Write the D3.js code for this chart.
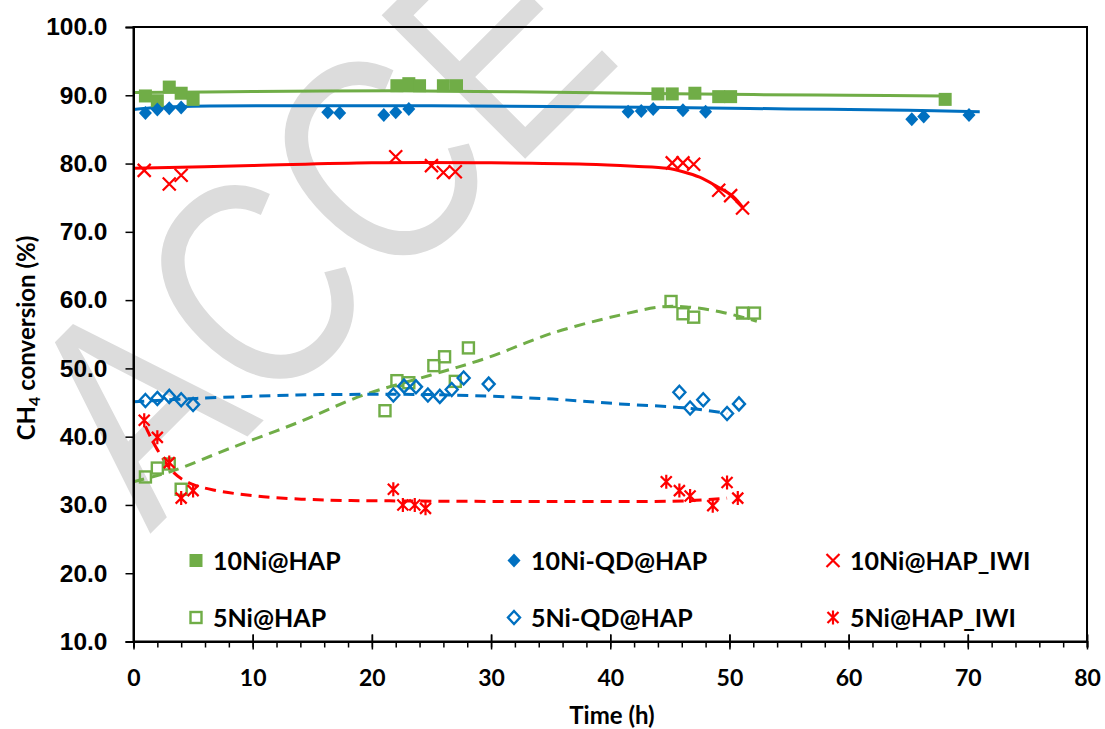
<!DOCTYPE html>
<html>
<head>
<meta charset="utf-8">
<script src="https://cdn.jsdelivr.net/npm/d3@7"></script>
<style>
  body { margin: 0; background: #fff; }
  svg { display: block; }
</style>
</head>
<body>
<script>
// Measured points: [time (h), CH4 conversion (%)]
const ni10HAP = [[1,89.9],[2,89.2],[3,91.2],[4,90.3],[5,89.4],[22.1,91.4],[23.1,91.7],[24,91.4],[26,91.4],[27.1,91.4],
  [44,90.2],[45.2,90.2],[47.1,90.3],[49.1,89.8],[50.1,89.8],[68.1,89.4]];
const ni10QD = [[1,87.4],[2,87.9],[3,88.1],[4,88.2],[16.3,87.5],[17.3,87.4],[21,87.1],[22,87.5],[23.1,88.0],
  [41.5,87.6],[42.6,87.7],[43.6,88.0],[46.1,87.8],[48,87.6],[65.3,86.5],[66.3,86.9],[70.1,87.1]];
const ni10IWI = [[0.9,79.0],[3,77.0],[4,78.3],[22,81.0],[25,79.7],[26,78.7],[27,78.8],
  [45.2,80.1],[46.1,80.1],[47,79.9],[49.1,76.1],[50.1,75.3],[51.1,73.5]];
const ni5HAP = [[1,34.1],[2,35.4],[3,36.0],[4,32.3],[21.1,43.8],[22.1,48.2],[23.1,47.9],[25.2,50.4],[26.1,51.7],
  [27,48.1],[28.1,53.0],[45.1,59.8],[46.1,58.0],[47,57.5],[51.1,58.1],[52.1,58.1]];
const ni5QD = [[1,45.3],[2,45.6],[3,45.9],[4,45.4],[5,44.7],[21.8,46.1],[22.7,47.4],[23.7,47.3],[24.7,46.1],
  [25.7,45.9],[26.7,46.9],[27.7,48.6],[29.8,47.7],[45.8,46.5],[46.7,44.2],[47.8,45.4],[49.8,43.4],[50.8,44.8]];
const ni5IWI = [[0.9,42.4],[2,39.9],[3,36.2],[4,31.0],[5,32.1],[21.8,32.3],[22.6,30.0],[23.6,30.0],[24.5,29.5],
  [44.7,33.4],[45.8,32.1],[46.7,31.3],[48.6,29.9],[49.8,33.3],[50.7,31.0]];

// Trend lines
const fit10NiHAP = [[0,90.4],[10,90.55],[22,90.65],[32,90.5],[42,90.3],[52,90.1],[60,90.0],[68,89.9]];
const fit10NiQD = [[0,87.9],[2,88.2],[5,88.4],[15,88.45],[25,88.45],[35,88.35],[45,88.2],[55,88.0],[65,87.8],[71,87.6]];
const fit10NiIWI = [[0,79.3],[10,79.7],[20,80.1],[30,80.1],[38,79.9],[42,79.6],[44.8,79.3],[46.1,78.8],[47.5,78.0],
  [48.9,76.7],[50.3,75.2],[51.1,73.6]];
const fit5NiHAP = [[0,33.4],[3.3,35.0],[8.1,38.3],[13.7,42.0],[19.3,46.1],[24.9,49.0],[29.6,51.5],[35.2,55.2],
  [40.8,57.8],[44.2,59.0],[46.4,59.0],[49.2,58.3],[52.3,56.9]];
const fit5NiQD = [[0,45.1],[5.3,45.6],[13.7,46.1],[21.5,46.2],[26.8,46.1],[35.2,45.5],[40.8,44.8],[46.4,44.2],[49.8,43.4]];
const fit5NiIWI = [[1,41.5],[2,38.1],[3.4,34.7],[4.7,33.2],[6.7,32.2],[10.9,31.2],[16.5,30.7],[21.5,30.6],
  [35.2,30.5],[46.4,30.6],[49.8,31.0]];

const labels = ["10Ni@HAP", "10Ni-QD@HAP", "10Ni@HAP_IWI", "5Ni@HAP", "5Ni-QD@HAP", "5Ni@HAP_IWI"];
const xTicks = [0, 10, 20, 30, 40, 50, 60, 70, 80];
const yTicks = [10, 20, 30, 40, 50, 60, 70, 80, 90, 100];

const green = "#70ad47", blue = "#0070c0", red = "#ff0000";

const series = [
  { name: labels[0], data: ni10HAP, fit: fit10NiHAP, color: green, marker: "sq", dash: null },
  { name: labels[1], data: ni10QD, fit: fit10NiQD, color: blue, marker: "dia", dash: null },
  { name: labels[2], data: ni10IWI, fit: fit10NiIWI, color: red, marker: "x", dash: null },
  { name: labels[3], data: ni5HAP, fit: fit5NiHAP, color: green, marker: "osq", dash: "11,7" },
  { name: labels[4], data: ni5QD, fit: fit5NiQD, color: blue, marker: "odia", dash: "11,7" },
  { name: labels[5], data: ni5IWI, fit: fit5NiIWI, color: red, marker: "star", dash: "11,7" }
];

const W = 1105, H = 729;
const margin = { top: 27, right: 18, bottom: 87.5, left: 133.5 };

const svg = d3.select("body").append("svg")
  .attr("width", W).attr("height", H);

svg.append("rect").attr("width", W).attr("height", H).attr("fill", "#fff");

// watermark (narrow letters, diagonal)
svg.append("text")
  .attr("transform", "translate(150,534) rotate(-45) scale(0.82,1)")
  .attr("font-family", "Liberation Sans, Arial, sans-serif")
  .attr("font-size", 295)
  .attr("fill", "#dcdcdc")
  .text("ACCE");

const x = d3.scaleLinear().domain([0, 80]).range([margin.left, W - margin.right]);
const y = d3.scaleLinear().domain([10, 100]).range([H - margin.bottom, margin.top]);

// trend lines
const line = d3.line()
  .x(d => x(d[0]))
  .y(d => y(d[1]))
  .curve(d3.curveCatmullRom.alpha(0.5));

series.forEach(s => {
  svg.append("path")
    .datum(s.fit)
    .attr("fill", "none")
    .attr("stroke", s.color)
    .attr("stroke-width", 3)
    .attr("stroke-dasharray", s.dash)
    .attr("d", line);
});

// markers
function drawMarker(g, type, color) {
  if (type === "sq") {
    g.append("rect").attr("x", -6.5).attr("y", -6.5).attr("width", 13).attr("height", 13).attr("fill", color);
  } else if (type === "dia") {
    g.append("path").attr("d", "M0,-7L6.5,0L0,7L-6.5,0Z").attr("fill", color);
  } else if (type === "x") {
    g.append("path").attr("d", "M-6.5,-6.5L6.5,6.5M-6.5,6.5L6.5,-6.5")
      .attr("stroke", color).attr("stroke-width", 2.2).attr("fill", "none");
  } else if (type === "osq") {
    g.append("rect").attr("x", -5.5).attr("y", -5.5).attr("width", 11).attr("height", 11)
      .attr("fill", "none").attr("stroke", color).attr("stroke-width", 2.4);
  } else if (type === "odia") {
    g.append("path").attr("d", "M0,-6.5L6,0L0,6.5L-6,0Z")
      .attr("fill", "none").attr("stroke", color).attr("stroke-width", 2.4);
  } else if (type === "star") {
    g.append("path").attr("d", "M-5.5,-5.5L5.5,5.5M-5.5,5.5L5.5,-5.5M0,-7L0,7")
      .attr("stroke", color).attr("stroke-width", 2.2).attr("fill", "none");
  }
}

series.forEach(s => {
  s.data.forEach(d => {
    const g = svg.append("g").attr("transform", `translate(${x(d[0])},${y(d[1])})`);
    drawMarker(g, s.marker, s.color);
  });
});

// plot frame
svg.append("rect")
  .attr("x", x(0)).attr("y", y(100))
  .attr("width", x(80) - x(0)).attr("height", y(10) - y(100))
  .attr("fill", "none").attr("stroke", "#000").attr("stroke-width", 2);

// y axis
const yAxis = svg.append("g")
  .attr("transform", `translate(${x(0)},0)`)
  .call(d3.axisLeft(y).tickValues(yTicks).tickSize(8).tickPadding(18).tickFormat(d3.format(".1f")));
yAxis.select(".domain").attr("stroke-width", 2);
yAxis.selectAll(".tick line").attr("stroke-width", 1.5);
yAxis.selectAll("text")
  .attr("font-family", "Liberation Sans, Arial, sans-serif")
  .attr("font-weight", "bold")
  .attr("font-size", 24.5)
  .attr("fill", "#000");

// x axis: minor ticks every 2 h, major ticks crossing the axis
const xAxis = svg.append("g")
  .attr("transform", `translate(0,${y(10)})`);
xAxis.call(d3.axisBottom(x).tickValues(d3.range(0, 81, 2)).tickSize(6).tickFormat(""));
xAxis.append("g")
  .call(d3.axisBottom(x).tickValues(xTicks).tickSize(8).tickPadding(20))
  .call(g => g.select(".domain").remove());
xAxis.selectAll(".domain").attr("stroke-width", 2);
xAxis.selectAll(".tick line").attr("stroke-width", 1.5);
xAxis.selectAll(".tick").filter(d => xTicks.includes(d))
  .append("line").attr("y1", 0).attr("y2", -7).attr("stroke", "#000").attr("stroke-width", 1.5);
xAxis.selectAll("text")
  .attr("font-family", "Lato, sans-serif")
  .attr("font-weight", "bold")
  .attr("font-size", 23)
  .attr("fill", "#000");

// axis titles
svg.append("text")
  .attr("x", 612).attr("y", 724)
  .attr("text-anchor", "middle")
  .attr("font-family", "Lato, sans-serif").attr("font-weight", "bold").attr("font-size", 24)
  .text("Time (h)");

const yt = svg.append("text")
  .attr("transform", "translate(35,338) rotate(-90)")
  .attr("text-anchor", "middle")
  .attr("font-family", "Lato, sans-serif").attr("font-weight", "bold").attr("font-size", 24);
yt.append("tspan").text("CH");
yt.append("tspan").attr("font-size", 16).attr("dy", 5).text("4");
yt.append("tspan").attr("dy", -5).text(" conversion (%)");

// legend
const legCols = [196, 514, 833];
const legRows = [560.5, 617.5];
series.forEach((s, i) => {
  const lx = legCols[i % 3], ly = legRows[Math.floor(i / 3)];
  const g = svg.append("g").attr("transform", `translate(${lx},${ly})`);
  drawMarker(g, s.marker, s.color);
  svg.append("text")
    .attr("x", lx + 17).attr("y", ly + 9)
    .attr("font-family", "Lato, sans-serif").attr("font-weight", "bold").attr("font-size", 25)
    .attr("fill", "#000")
    .text(s.name);
});
</script>
</body>
</html>
